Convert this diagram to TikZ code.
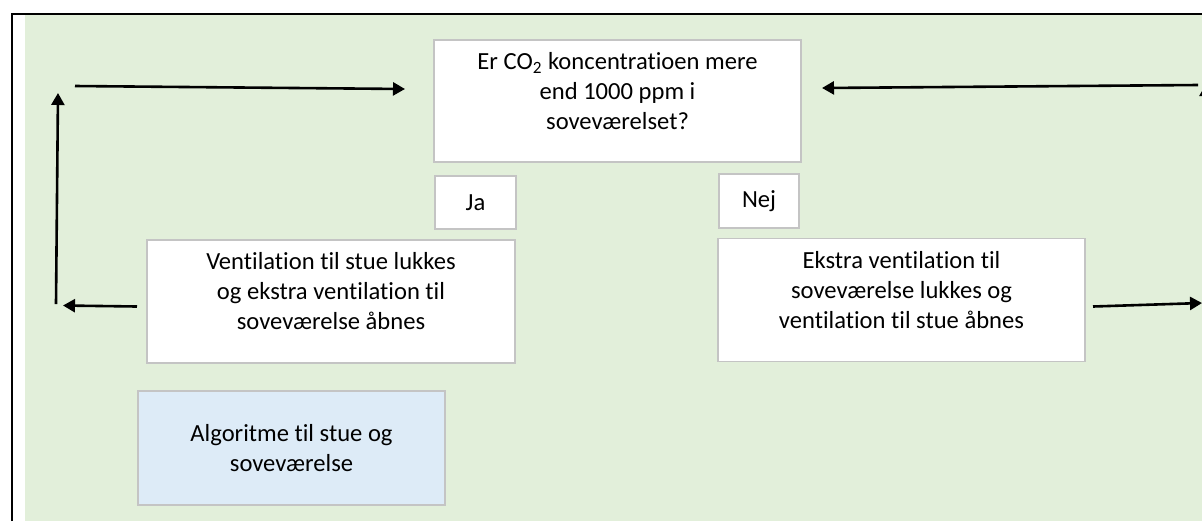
\documentclass[tikz,border=0pt]{standalone}
\usepackage{fontspec}
\setmainfont[Ligatures=NoCommon]{Carlito}
\usepackage{xcolor}
\usetikzlibrary{arrows.meta, positioning}
\definecolor{bggreen}{HTML}{E2EFDA}
\definecolor{boxblue}{HTML}{DDEBF7}
\definecolor{boxgray}{HTML}{C4C4C4}

\begin{document}
\begin{tikzpicture}[x=0.5pt,y=-0.5pt,
  box/.style={draw=boxgray, line width=0.6pt, fill=white, inner sep=0pt},
  txt/.style={align=center, inner sep=0pt, font=\fontsize{12.3}{15}\selectfont},
  flow/.style={line width=1.3pt, -{Triangle[length=6pt,width=6.5pt]}}]
\useasboundingbox (0,0) rectangle (1202,521);
\fill[white] (0,0) rectangle (1202,521);
\fill[bggreen] (25,14) rectangle (1202,521);
\draw[line width=1pt] (11.5,521) -- (11.5,13.5) -- (1202,13.5);

% boxes
\node[box, minimum width=183.5pt, minimum height=61pt] (q) at (617.5,101) {};
\node[txt, below=6.5pt of q.north] (qtxt) {Er CO\textsubscript{2} koncentratioen mere\\end 1000 ppm i\\soveværelset?};
\node[box, txt, minimum width=40.5pt, minimum height=26.5pt] (ja) at (475.5,202.5) {Ja};
\node[box, txt, minimum width=40pt, minimum height=27pt] (nej) at (759,201) {Nej};
\node[box, minimum width=184pt, minimum height=61.5pt] (ventL) at (331,301.5) {};
\node[txt, below=6.5pt of ventL.north] (ventLtxt) {Ventilation til stue lukkes\\og ekstra ventilation til\\soveværelse åbnes};
\node[box, minimum width=183.5pt, minimum height=61.5pt] (ventR) at (901.5,300) {};
\node[txt, below=6.5pt of ventR.north] (ventRtxt) {Ekstra ventilation til\\soveværelse lukkes og\\ventilation til stue åbnes};
\node[box, txt, fill=boxblue, minimum width=153.5pt, minimum height=57pt] (algo) at (291.5,448) {Algoritme til stue og\\soveværelse};

% loop arrows
\coordinate (topL) at (75,86);
\coordinate (topLend) at (405,89);
\coordinate (topR) at (1198,85);
\coordinate (topRend) at (822,88);
\coordinate (sideL) at (56,304);
\coordinate (sideLend) at (58,93);
\coordinate (midL) at (137,306.5);
\coordinate (midLend) at (63,305.5);
\coordinate (midR) at (1093,306.5);
\coordinate (midRend) at (1202,303);
\coordinate (sideR) at (1206,304);
\coordinate (sideRend) at (1206,84);
\draw[flow] (topL) -- (topLend);
\draw[flow] (topR) -- (topRend);
\draw[flow] (sideL) -- (sideLend);
\draw[flow] (midL) -- (midLend);
\draw[flow] (midR) -- (midRend);
\draw[flow] (sideR) -- (sideRend);
\end{tikzpicture}
\end{document}
